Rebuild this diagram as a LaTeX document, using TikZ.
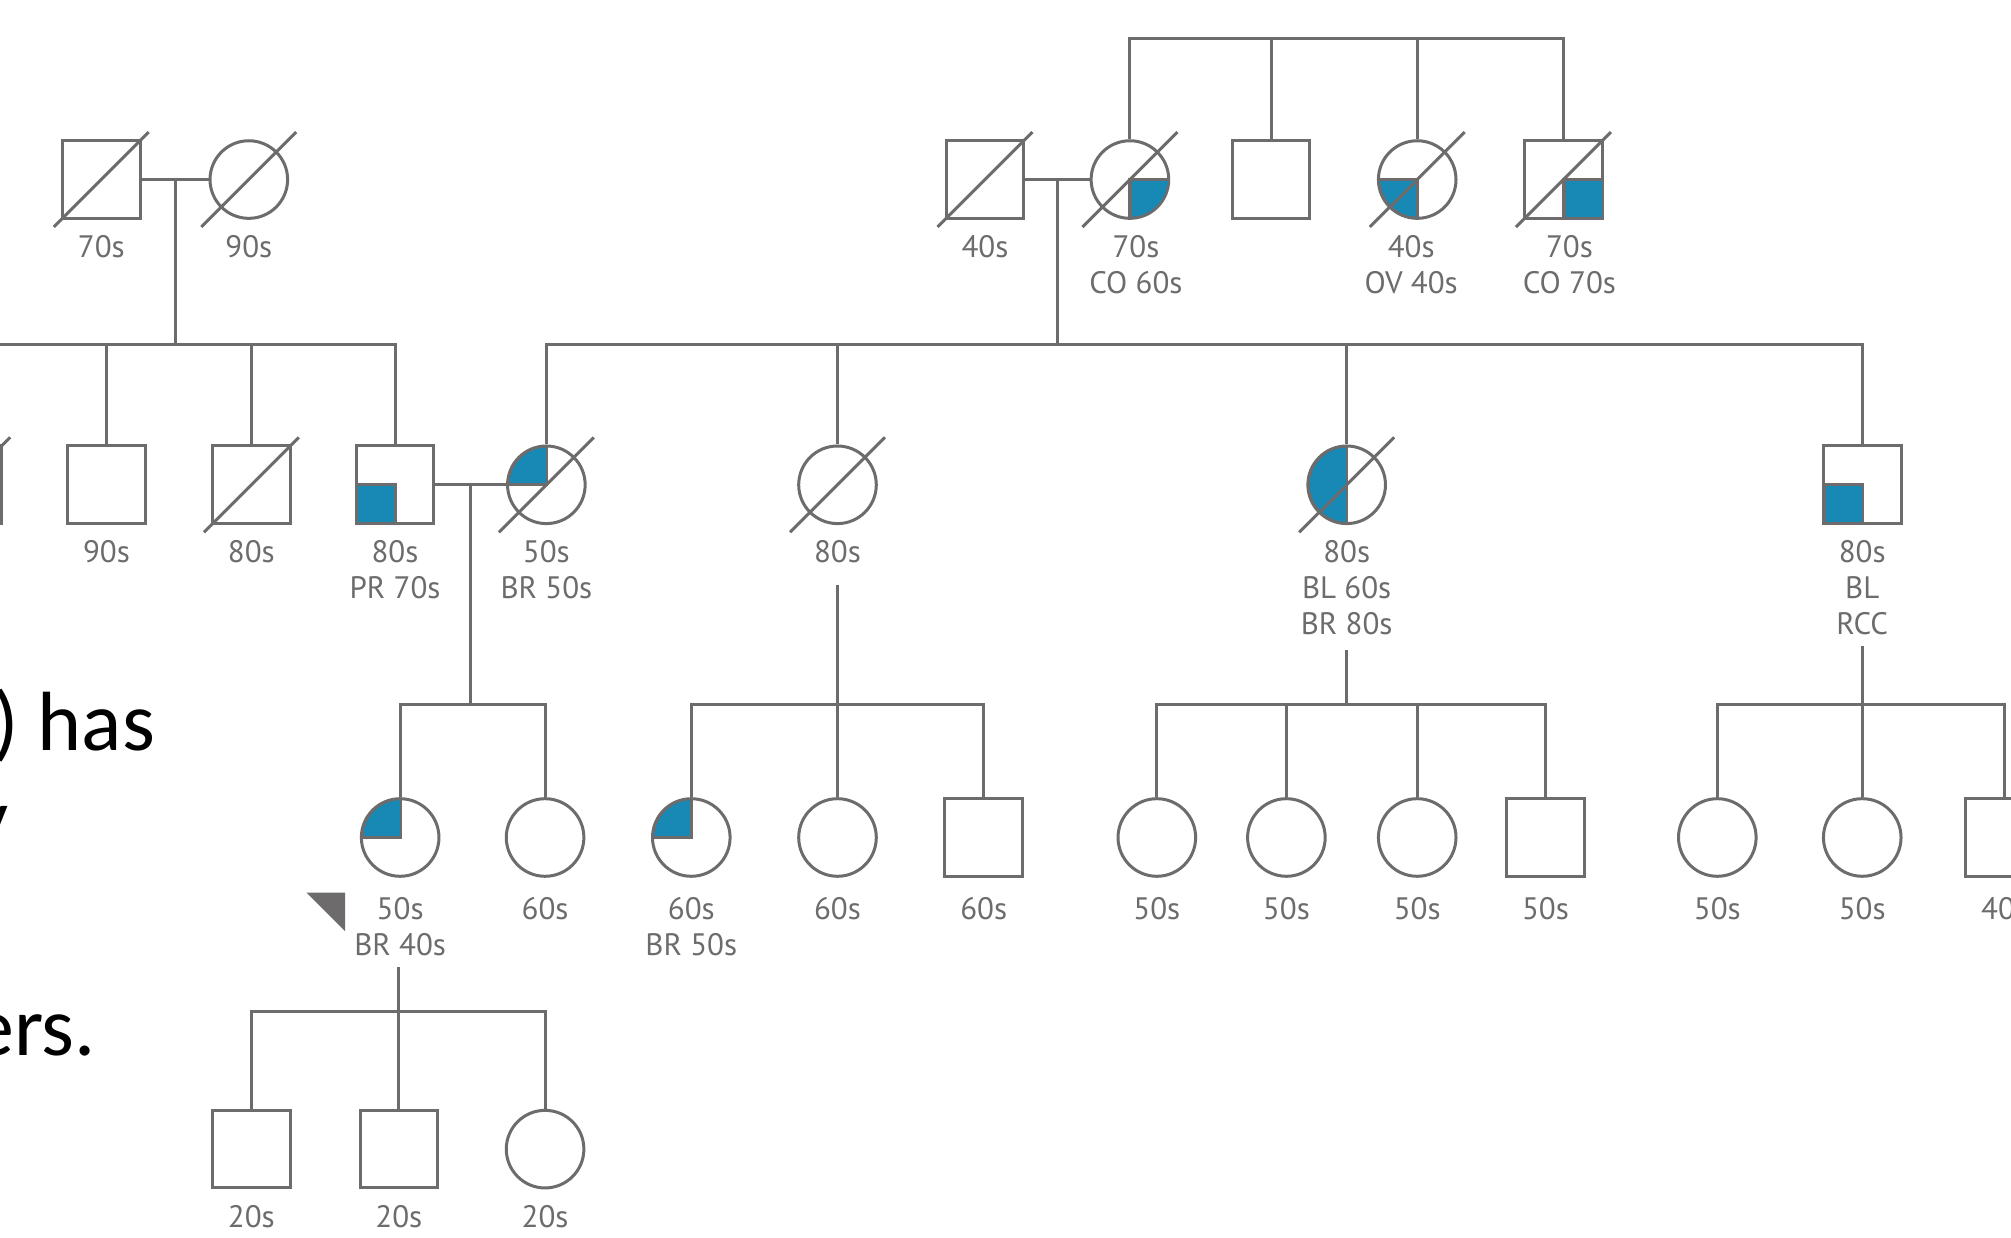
\documentclass[tikz,border=0pt]{standalone}
\usepackage{fontspec}
\usetikzlibrary{positioning,calc}
\newfontfamily\labfont{PT Sans}
\newfontfamily\slidefont{Carlito}
\definecolor{pgray}{RGB}{109,107,107}
\definecolor{pblue}{RGB}{24,136,181}
\begin{document}
\begin{tikzpicture}[x=0.64125pt,y=-0.64125pt,line width=1.5pt,
  pline/.style={draw=pgray,line width=1.5pt},
  male/.style={pline,fill=white,rectangle,minimum size=38.8pt,inner sep=0pt},
  female/.style={pline,fill=white,circle,minimum size=38.8pt,inner sep=0pt},
  quad/.style 2 args={path picture={\fill[pblue] (path picture bounding box.center) rectangle (path picture bounding box.#1 #2);
    \draw[pline] (path picture bounding box.#1) -- (path picture bounding box.center) -- (path picture bounding box.#2);}},
  halfwest/.style={path picture={\fill[pblue] (path picture bounding box.north) rectangle (path picture bounding box.south west);
    \draw[pline] (path picture bounding box.north) -- (path picture bounding box.south);}},
  lab/.style={align=center,inner sep=0pt,text=pgray,font=\labfont\fontsize{15.5}{18}\selectfont},
  slide/.style={inner sep=0pt,text=black,font=\slidefont\fontsize{42}{50}\selectfont}]
\path[use as bounding box] (0,0) rectangle (1568,965);
\clip (0,0) rectangle (1568,965);

\node[slide,anchor=base east] (tx1) at (122,585) {) has};
\node[slide,anchor=base east] (tx2) at (8,660) {y};
\node[slide,anchor=base east] (tx3) at (76,823) {ers.};

\node[male] (gf1) at (79,140) {};
\node[female] (gm1) at (194,140) {};
\node[male] (gf2) at (768,140) {};
\node[female,quad={south}{east}] (gm2) at (881,140) {};
\node[male] (gu1) at (991,140) {};
\node[female,quad={south}{west}] (ga1) at (1105,140) {};
\node[male,quad={south}{east}] (gu2) at (1219,140) {};

\node[male] (u1) at (-29,378) {};
\node[male] (u2) at (83,378) {};
\node[male] (u3) at (196,378) {};
\node[male,quad={south}{west}] (f1) at (308,378) {};
\node[female,quad={north}{west}] (m1) at (426,378) {};
\node[female] (a2) at (653,378) {};
\node[female,halfwest] (a3) at (1050,378) {};
\node[male,quad={south}{west}] (a4) at (1452,378) {};

\node[female,quad={north}{west}] (p1) at (312,653) {};
\node[female] (c2) at (425,653) {};
\node[female,quad={north}{west}] (c3) at (539,653) {};
\node[female] (c4) at (653,653) {};
\node[male] (c5) at (767,653) {};
\node[female] (c6) at (902,653) {};
\node[female] (c7) at (1003,653) {};
\node[female] (c8) at (1105,653) {};
\node[male] (c9) at (1205,653) {};
\node[female] (c10) at (1339,653) {};
\node[female] (c11) at (1452,653) {};
\node[male] (c12) at (1563,653) {};

\node[male] (g1) at (196,896) {};
\node[male] (g2) at (311,896) {};
\node[female] (g3) at (425,896) {};

\foreach \n in {gf1,gm1,gf2,gm2,ga1,gu2,u1,u3,m1,a2,a3}
  \draw[pline] (\n) ++(-37,37) -- ++(74,-74);

\fill[pgray] (p1) ++(-73,43) -- ++(30,0) -- ++(0,30) -- cycle;

\node[lab,below=7pt of gf1] (gf1t) {70s};
\node[lab,below=7pt of gm1] (gm1t) {90s};
\node[lab,below=7pt of gf2] (gf2t) {40s};
\node[lab,below=7pt of gm2,xshift=3pt] (gm2t) {70s\\CO 60s};
\node[lab,below=7pt of ga1,xshift=-3pt] (ga1t) {40s\\OV 40s};
\node[lab,below=7pt of gu2,xshift=3pt] (gu2t) {70s\\CO 70s};
\node[lab,below=7pt of u2] (u2t) {90s};
\node[lab,below=7pt of u3] (u3t) {80s};
\node[lab,below=7pt of f1] (f1t) {80s\\PR 70s};
\node[lab,below=7pt of m1] (m1t) {50s\\BR 50s};
\node[lab,below=7pt of a2] (a2t) {80s};
\node[lab,below=7pt of a3] (a3t) {80s\\BL 60s\\BR 80s};
\node[lab,below=7pt of a4] (a4t) {80s\\BL\\RCC};
\node[lab,below=9pt of p1] (p1t) {50s\\BR 40s};
\node[lab,below=9pt of c2] (c2t) {60s};
\node[lab,below=9pt of c3] (c3t) {60s\\BR 50s};
\node[lab,below=9pt of c4] (c4t) {60s};
\node[lab,below=9pt of c5] (c5t) {60s};
\node[lab,below=9pt of c6] (c6t) {50s};
\node[lab,below=9pt of c7] (c7t) {50s};
\node[lab,below=9pt of c8] (c8t) {50s};
\node[lab,below=9pt of c9] (c9t) {50s};
\node[lab,below=9pt of c10] (c10t) {50s};
\node[lab,below=9pt of c11] (c11t) {50s};
\node[lab,below=9pt of c12] (c12t) {40s};
\node[lab,below=7pt of g1] (g1t) {20s};
\node[lab,below=7pt of g2] (g2t) {20s};
\node[lab,below=7pt of g3] (g3t) {20s};

\coordinate (s0) at (1050,30);
\coordinate (k1) at ($(gf1)!.5!(gm1)$);
\coordinate (s1) at (136,269);
\coordinate (k2) at ($(gf2)!.5!(gm2)$);
\coordinate (s2) at (825,269);
\coordinate (k3) at ($(f1)!.5!(m1)$);
\coordinate (s3) at (367,549);
\coordinate (d2) at (653,456);
\coordinate (s4) at (653,549);
\coordinate (d3) at (1050,507);
\coordinate (s5) at (1050,549);
\coordinate (d4) at (1452,504);
\coordinate (s6) at (1452,549);
\coordinate (d5) at (311,754);
\coordinate (s7) at (311,789);

\draw[pline] (gm2.north) |- (s0) -| (gu2.north);
\draw[pline] (gu1.north) -- (gu1.north |- s0);
\draw[pline] (ga1.north) -- (ga1.north |- s0);

\draw[pline] (gf1) -- (gm1);
\draw[pline] (k1) -- (k1 |- s1);
\draw[pline] (u1.north) |- (s1) -| (f1.north);
\draw[pline] (u2.north) -- (u2.north |- s1);
\draw[pline] (u3.north) -- (u3.north |- s1);

\draw[pline] (gf2) -- (gm2);
\draw[pline] (k2) -- (k2 |- s2);
\draw[pline] (m1.north) |- (s2) -| (a4.north);
\draw[pline] (a2.north) -- (a2.north |- s2);
\draw[pline] (a3.north) -- (a3.north |- s2);

\draw[pline] (f1) -- (m1);
\draw[pline] (k3) -- (k3 |- s3);
\draw[pline] (p1.north) |- (s3) -| (c2.north);

\draw[pline] (d2) -- (s4);
\draw[pline] (c3.north) |- (s4) -| (c5.north);
\draw[pline] (c4.north) -- (s4);

\draw[pline] (d3) -- (s5);
\draw[pline] (c6.north) |- (s5) -| (c9.north);
\draw[pline] (c7.north) -- (c7.north |- s5);
\draw[pline] (c8.north) -- (c8.north |- s5);

\draw[pline] (d4) -- (s6);
\draw[pline] (c10.north) |- (s6) -| (c12.north);
\draw[pline] (c11.north) -- (s6);

\draw[pline] (d5) -- (s7);
\draw[pline] (g1.north) |- (s7) -| (g3.north);
\draw[pline] (g2.north) -- (s7);
\end{tikzpicture}
\end{document}
